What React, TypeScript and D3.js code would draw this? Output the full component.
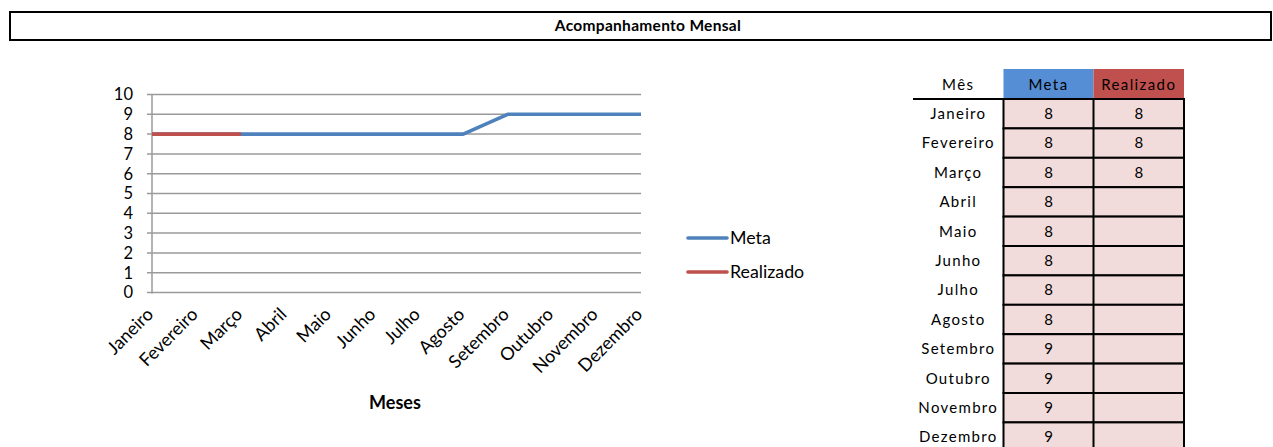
import React from "react";
import * as d3 from "d3";

const months = ["Janeiro","Fevereiro","Março","Abril","Maio","Junho","Julho","Agosto","Setembro","Outubro","Novembro","Dezembro"];
const meta: number[] = [8,8,8,8,8,8,8,8,9,9,9,9];
const realizado: (number|null)[] = [8,8,8,null,null,null,null,null,null,null,null,null];
const yTicks = [0,1,2,3,4,5,6,7,8,9,10];
const title = "Acompanhamento Mensal";
const xTitle = "Meses";
const seriesNames = ["Meta","Realizado"];

const FONT = "Lato, 'Open Sans', sans-serif";
const BLUE = "#4F81BD";
const RED = "#C0504D";

export default function App() {
  const x = d3.scalePoint<string>().domain(months).range([152, 641]);
  const y = d3.scaleLinear().domain([0, 10]).range([292.5, 94.5]);
  const line = d3.line<number|null>()
    .defined((d) => d !== null)
    .x((_, i) => x(months[i]) as number)
    .y((d) => y(d as number));

  // table geometry
  const tLeft = 913, c1 = 1003.5, c2 = 1093.5, c3 = 1184;
  const headTop = 69, headBot = 99, rowH = 29.4;
  const rowY = d3.scaleLinear().domain([0, 1]).range([headBot, headBot + rowH]);

  return (
    <svg width={1273} height={447} style={{ position: "absolute", left: 0, top: 0, background: "#fff" }} fontFamily={FONT}>
      {/* title box */}
      <rect x={10} y={12} width={1261} height={28} fill="none" stroke="#000" strokeWidth={2} />
      <text x={648} y={26} dy="0.35em" textAnchor="middle" fontSize={15.5} fontWeight="bold" letterSpacing={0.3}>{title}</text>

      {/* gridlines */}
      {yTicks.map((t) => (
        <g key={t}>
          <line x1={147} x2={641} y1={y(t)} y2={y(t)} stroke="#9a9a9a" strokeWidth={1.5} />
          <text x={133} y={y(t)} dy="0.36em" textAnchor="end" fontSize={16.5}>{t}</text>
        </g>
      ))}
      <line x1={152} x2={152} y1={y(10)} y2={y(0) + 1} stroke="#9a9a9a" strokeWidth={1.5} />

      {/* x labels */}
      {months.map((m) => (
        <text key={m} transform={`translate(${(x(m) as number) - 2},${311}) rotate(-45)`} textAnchor="end" fontSize={18} dy="0.35em">{m}</text>
      ))}
      <text x={395} y={403} dy="0.35em" textAnchor="middle" fontSize={18} fontWeight="bold">{xTitle}</text>

      {/* lines */}
      <path d={line(meta) || ""} fill="none" stroke={BLUE} strokeWidth={3.6} strokeLinejoin="round" />
      <path d={line(realizado) || ""} fill="none" stroke={RED} strokeWidth={3.6} strokeLinejoin="round" />

      {/* legend */}
      {seriesNames.map((s, i) => (
        <g key={s}>
          <line x1={688} x2={727} y1={238 + i * 34} y2={238 + i * 34} stroke={i === 0 ? BLUE : RED} strokeWidth={3.6} strokeLinecap="round" />
          <text x={730} y={238 + i * 34} dy="0.35em" fontSize={17.8}>{s}</text>
        </g>
      ))}

      {/* table header */}
      <rect x={c1} y={headTop} width={c2 - c1} height={headBot - headTop} fill="#558ED5" />
      <rect x={c2} y={headTop} width={c3 - c2} height={headBot - headTop} fill={RED} />
      <text x={(tLeft + c1) / 2} y={(headTop + headBot) / 2 + 1} dy="0.35em" textAnchor="middle" fontSize={15} letterSpacing={1.4}>Mês</text>
      <text x={(c1 + c2) / 2} y={(headTop + headBot) / 2 + 1} dy="0.35em" textAnchor="middle" fontSize={15} letterSpacing={1.4}>{seriesNames[0]}</text>
      <text x={(c2 + c3) / 2} y={(headTop + headBot) / 2 + 1} dy="0.35em" textAnchor="middle" fontSize={15} letterSpacing={1.4}>{seriesNames[1]}</text>

      {/* table rows */}
      {months.map((m, i) => {
        const top = rowY(i);
        const mid = top + rowH / 2;
        return (
          <g key={m}>
            <rect x={c1} y={top} width={c3 - c1} height={rowH} fill="#F2DCDB" stroke="#000" strokeWidth={2} />
            <line x1={c2} x2={c2} y1={top} y2={top + rowH} stroke="#000" strokeWidth={2} />
            <text x={(tLeft + c1) / 2} y={mid} dy="0.35em" textAnchor="middle" fontSize={15} letterSpacing={1.3}>{m}</text>
            <text x={(c1 + c2) / 2} y={mid} dy="0.35em" textAnchor="middle" fontSize={15}>{meta[i]}</text>
            {realizado[i] !== null && (
              <text x={(c2 + c3) / 2} y={mid} dy="0.35em" textAnchor="middle" fontSize={15}>{realizado[i]}</text>
            )}
          </g>
        );
      })}
      <line x1={tLeft} x2={c1} y1={headBot} y2={headBot} stroke="#000" strokeWidth={2} />
    </svg>
  );
}
